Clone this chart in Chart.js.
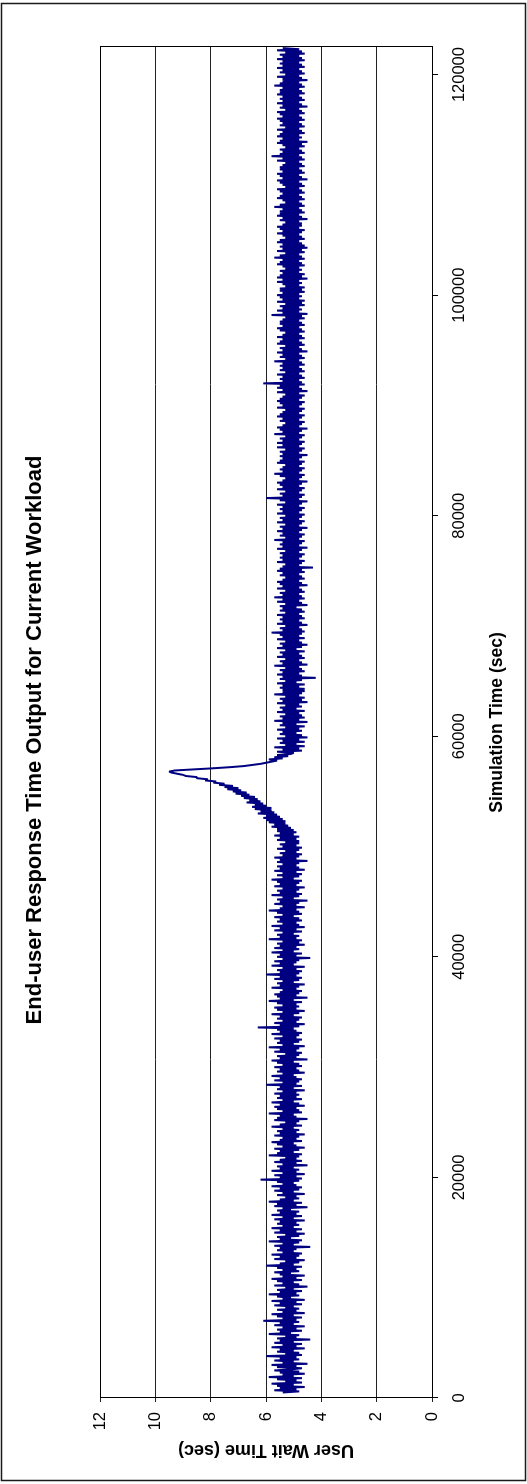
<!DOCTYPE html>
<html>
<head>
<meta charset="utf-8">
<title>End-user Response Time Output for Current Workload</title>
<script src="https://cdn.jsdelivr.net/npm/chart.js@4.4.1/dist/chart.umd.min.js"></script>
<style>
  html, body { margin: 0; padding: 0; background: #fff; }
  #wrap { position: relative; width: 527px; height: 1484px; overflow: hidden; }
  /* chart is drawn lying down, then turned a quarter turn counter-clockwise */
  #chart { position: absolute; left: 0; top: 0; transform-origin: 0 0; transform: translate(0, 1484px) rotate(-90deg); }
</style>
</head>
<body>
<div id="wrap"><canvas id="chart" width="1484" height="527"></canvas></div>
<script>
(function () {
    'use strict';

    // ─── Data ────────────────────────────────────────────────────────────────
    const sampleStart = 500;     // sec, first sample
    const sampleStep  = 100;     // sec between samples

    // steady state before the surge (t = 500 … 50400)
    const waitBefore = [
        5.4, 4.8, 5.7, 4.9, 5.5, 4.6, 5.6, 5.0, 5.8, 4.7,
        5.3, 4.9, 5.6, 4.7, 5.9, 5.0, 5.4, 4.6, 5.5, 4.8,
        5.7, 5.1, 4.7, 5.6, 4.9, 5.8, 4.5, 5.4, 5.0, 5.7,
        4.8, 5.5, 4.9, 6.0, 4.7, 5.3, 4.8, 5.6, 5.0, 5.5,
        4.6, 5.8, 4.9, 5.4, 4.7, 5.7, 5.0, 5.5, 4.4, 5.6,
        4.9, 5.3, 4.8, 5.9, 5.1, 5.5, 4.7, 5.6, 4.9, 5.4,
        4.6, 5.7, 5.0, 5.5, 4.8, 6.1, 4.9, 5.4, 4.7, 5.6,
        5.0, 5.8, 4.6, 5.4, 4.9, 5.6, 4.8, 5.3, 5.0, 5.7,
        4.7, 5.5, 4.9, 5.8, 4.6, 5.4, 5.1, 5.6, 4.8, 5.9,
        4.9, 5.5, 4.7, 5.6, 5.0, 5.3, 4.5, 5.7, 4.8, 5.4,
        5.0, 5.6, 4.7, 5.8, 4.9, 5.4, 4.6, 5.5, 5.1, 5.7,
        4.8, 5.4, 4.9, 5.6, 4.7, 6.0, 5.0, 5.5, 4.8, 5.3,
        4.6, 5.7, 4.9, 5.5, 4.8, 5.8, 4.7, 5.4, 5.0, 5.6,
        4.9, 5.5, 4.4, 5.7, 5.0, 5.4, 4.8, 5.9, 4.7, 5.5,
        5.1, 5.6, 4.8, 5.3, 4.6, 5.7, 4.9, 5.5, 4.7, 5.8,
        5.0, 5.4, 4.8, 5.6, 4.9, 5.5, 4.6, 5.7, 5.0, 5.4,
        4.7, 5.8, 4.9, 5.5, 4.8, 5.6, 5.1, 5.4, 4.5, 5.7,
        4.9, 5.6, 4.7, 5.9, 5.0, 5.5, 4.8, 5.3, 4.9, 5.6,
        4.6, 5.4, 5.0, 5.7, 4.8, 5.5, 4.7, 5.8, 4.9, 5.4,
        5.0, 5.6, 4.8, 6.2, 4.7, 5.5, 4.9, 5.7, 4.6, 5.4,
        4.9, 5.8, 4.8, 5.5, 5.0, 5.6, 4.5, 5.4, 4.9, 5.7,
        4.7, 5.5, 4.9, 5.3, 4.8, 5.9, 4.7, 5.6, 5.0, 5.5,
        4.8, 5.7, 4.6, 5.4, 4.9, 5.6, 5.0, 5.8, 4.7, 5.5,
        4.9, 5.4, 4.8, 5.7, 4.6, 5.5, 4.9, 5.6, 4.8, 5.4,
        5.0, 5.8, 4.7, 5.5, 4.9, 5.3, 4.8, 5.7, 4.5, 5.6,
        4.9, 5.5, 5.0, 5.9, 4.7, 5.4, 4.8, 5.6, 4.9, 5.7,
        4.6, 5.5, 4.8, 5.8, 5.0, 5.4, 4.7, 5.6, 4.9, 5.5,
        4.8, 5.7, 4.9, 5.4, 4.6, 5.6, 5.0, 5.5, 4.7, 6.0,
        4.9, 5.4, 4.8, 5.7, 4.7, 5.5, 4.9, 5.8, 5.0, 5.4,
        4.6, 5.6, 4.8, 5.5, 4.9, 5.7, 4.7, 5.4, 4.8, 5.6,
        5.0, 5.8, 4.5, 5.5, 4.9, 5.6, 4.8, 5.3, 4.7, 5.7,
        4.9, 5.5, 4.8, 5.9, 4.6, 5.4, 5.0, 5.6, 4.8, 5.5,
        4.7, 5.7, 4.9, 5.4, 4.8, 5.8, 4.7, 5.5, 4.9, 5.6,
        5.0, 6.3, 4.8, 5.5, 4.6, 5.7, 4.9, 5.4, 4.8, 5.6,
        4.7, 5.5, 5.0, 5.8, 4.8, 5.4, 4.6, 5.6, 4.9, 5.7,
        4.8, 5.4, 4.9, 5.6, 4.7, 5.9, 5.0, 5.5, 4.5, 5.6,
        4.9, 5.7, 4.8, 5.5, 4.7, 5.4, 4.9, 5.8, 4.8, 5.5,
        4.6, 5.6, 5.0, 5.4, 4.8, 5.7, 4.7, 5.5, 4.9, 6.0,
        4.8, 5.5, 4.7, 5.6, 4.9, 5.4, 4.6, 5.8, 5.0, 5.5,
        4.9, 5.7, 4.8, 5.4, 4.4, 5.6, 4.9, 5.5, 4.7, 5.8,
        5.0, 5.4, 4.8, 5.7, 4.9, 5.5, 4.6, 5.6, 4.8, 5.4,
        4.7, 5.9, 4.9, 5.5, 4.8, 5.6, 5.0, 5.4, 4.7, 5.7,
        4.9, 5.5, 4.6, 5.8, 4.8, 5.4, 4.9, 5.6, 4.7, 5.5,
        4.8, 5.7, 5.0, 5.4, 4.7, 5.6, 4.8, 5.9, 4.9, 5.5,
        4.6, 5.4, 4.9, 5.7, 4.8, 5.5, 4.5, 5.6, 5.0, 5.4,
        4.8, 5.8, 4.7, 5.5, 4.9, 5.6, 4.8, 5.4, 4.6, 5.7,
        4.9, 5.5, 4.8, 5.6, 4.7, 5.8, 5.0, 5.4, 4.8, 5.6,
        4.7, 5.4, 4.9, 5.7, 4.6, 5.5, 4.8, 5.6, 4.9, 5.4,
        4.8, 5.6, 4.5, 5.5, 4.9, 5.7, 4.8, 5.4, 4.7, 5.5,
        4.9, 5.3, 4.8, 5.6, 4.7, 5.4, 4.9, 5.5, 4.8, 5.3
    ];

    // build-up, peak and recovery (t = 50500 … 58400)
    const waitSurge = [
        4.8, 5.6, 4.9, 5.5, 4.8, 5.7, 5.0, 5.5, 4.9, 5.6,
        5.0, 5.6, 5.1, 5.8, 5.2, 5.7, 5.3, 5.9, 5.3, 6.0,
        5.4, 6.1, 5.5, 6.0, 5.6, 6.3, 5.7, 6.2, 5.8, 6.4,
        5.8, 6.5, 6.0, 6.4, 6.1, 6.7, 6.2, 6.6, 6.3, 6.8,
        6.4, 6.9, 6.6, 7.1, 6.7, 7.2, 6.9, 7.4, 7.0, 7.5,
        7.2, 7.7, 7.5, 7.9, 7.8, 8.2, 8.1, 8.5, 8.5, 8.9,
        9.0, 9.2, 9.4, 9.5, 9.3, 8.6, 7.9, 7.3, 6.8, 6.5,
        6.2, 6.0, 5.8, 5.6, 5.9, 5.4, 5.7, 5.2, 5.6, 5.1
    ];

    // steady state after the surge (t = 58500 … 122400)
    const waitAfter = [
        5.0, 5.6, 4.7, 5.4, 4.8, 5.7, 4.6, 5.3, 4.9, 5.5,
        4.6, 5.4, 4.8, 5.6, 4.5, 5.3, 4.7, 5.5, 4.9, 5.4,
        4.7, 5.6, 4.8, 5.3, 4.6, 5.5, 4.9, 5.4, 4.5, 5.7,
        4.8, 5.4, 4.6, 5.5, 4.7, 5.3, 4.8, 5.6, 4.6, 5.4,
        4.9, 5.5, 4.7, 5.3, 4.8, 5.6, 4.5, 5.4, 4.7, 5.5,
        4.6, 5.3, 4.8, 5.7, 4.7, 5.4, 4.6, 5.4, 4.6, 5.5,
        4.8, 5.4, 4.6, 5.6, 4.9, 5.3, 4.7, 5.5, 4.2, 5.4,
        4.7, 5.6, 4.8, 5.4, 4.6, 5.5, 4.7, 5.3, 4.8, 5.7,
        4.5, 5.4, 4.7, 5.5, 4.8, 5.3, 4.6, 5.6, 4.7, 5.4,
        4.8, 5.5, 4.6, 5.3, 4.9, 5.6, 4.7, 5.4, 4.5, 5.5,
        4.7, 5.3, 4.8, 5.6, 4.6, 5.4, 4.8, 5.5, 4.7, 5.8,
        4.6, 5.4, 4.7, 5.5, 4.8, 5.3, 4.5, 5.6, 4.7, 5.4,
        4.8, 5.5, 4.6, 5.4, 4.7, 5.6, 4.8, 5.3, 4.6, 5.5,
        4.7, 5.4, 4.9, 5.5, 4.5, 5.3, 4.7, 5.6, 4.8, 5.4,
        4.6, 5.7, 4.7, 5.4, 4.8, 5.5, 4.6, 5.3, 4.7, 5.6,
        4.8, 5.4, 4.5, 5.5, 4.7, 5.6, 4.8, 5.4, 4.6, 5.3,
        4.7, 5.5, 4.8, 5.4, 4.6, 5.6, 4.7, 5.5, 4.3, 5.4,
        4.8, 5.3, 4.7, 5.6, 4.6, 5.4, 4.8, 5.5, 4.7, 5.4,
        4.6, 5.5, 4.8, 5.3, 4.7, 5.6, 4.5, 5.4, 4.8, 5.5,
        4.7, 5.4, 4.6, 5.7, 4.8, 5.3, 4.7, 5.5, 4.6, 5.4,
        4.8, 5.6, 4.7, 5.4, 4.5, 5.5, 4.8, 5.3, 4.7, 5.6,
        4.6, 5.4, 4.8, 5.5, 4.7, 5.3, 4.6, 5.6, 4.8, 5.4,
        4.7, 5.5, 4.6, 5.4, 4.8, 5.6, 4.7, 5.3, 4.5, 5.5,
        4.8, 6.0, 4.7, 5.4, 4.6, 5.5, 4.8, 5.3, 4.7, 5.6,
        4.6, 5.4, 4.8, 5.5, 4.7, 5.6, 4.5, 5.4, 4.8, 5.3,
        4.7, 5.5, 4.6, 5.7, 4.8, 5.4, 4.7, 5.5, 4.6, 5.4,
        4.8, 5.3, 4.7, 5.6, 4.6, 5.5, 4.8, 5.4, 4.7, 5.5,
        4.5, 5.4, 4.8, 5.5, 4.7, 5.3, 4.6, 5.6, 4.8, 5.4,
        4.7, 5.6, 4.6, 5.4, 4.8, 5.5, 4.7, 5.3, 4.6, 5.7,
        4.8, 5.4, 4.7, 5.5, 4.5, 5.6, 4.8, 5.4, 4.7, 5.3,
        4.6, 5.5, 4.8, 5.4, 4.7, 5.6, 4.6, 5.5, 4.8, 5.4,
        4.7, 5.3, 4.6, 5.6, 4.8, 5.4, 4.7, 5.5, 4.6, 5.6,
        4.8, 5.5, 4.7, 5.4, 4.6, 5.3, 4.8, 5.6, 4.5, 5.4,
        4.7, 5.6, 4.8, 5.5, 4.6, 6.1, 4.7, 5.4, 4.8, 5.5,
        4.6, 5.4, 4.7, 5.6, 4.8, 5.3, 4.6, 5.5, 4.7, 5.4,
        4.8, 5.5, 4.6, 5.4, 4.7, 5.7, 4.8, 5.3, 4.6, 5.5,
        4.7, 5.4, 4.8, 5.6, 4.5, 5.4, 4.7, 5.5, 4.8, 5.3,
        4.6, 5.6, 4.7, 5.5, 4.8, 5.4, 4.6, 5.6, 4.7, 5.4,
        4.8, 5.3, 4.6, 5.5, 4.7, 5.6, 4.8, 5.4, 4.6, 5.5,
        4.7, 5.5, 4.8, 5.4, 4.6, 5.3, 4.7, 5.8, 4.5, 5.4,
        4.8, 5.6, 4.7, 5.4, 4.8, 5.5, 4.6, 5.3, 4.7, 5.6,
        4.6, 5.4, 4.8, 5.5, 4.7, 5.6, 4.8, 5.4, 4.6, 5.5,
        4.7, 5.5, 4.6, 5.3, 4.8, 5.4, 4.7, 5.6, 4.8, 5.4,
        4.5, 5.6, 4.7, 5.5, 4.6, 5.4, 4.8, 5.5, 4.7, 5.3,
        4.8, 5.4, 4.6, 5.6, 4.7, 5.5, 4.8, 5.4, 4.6, 5.7,
        4.7, 5.5, 4.8, 5.3, 4.6, 5.6, 4.7, 5.4, 4.5, 5.5,
        4.6, 5.4, 4.7, 5.6, 4.8, 5.5, 4.6, 5.3, 4.7, 5.4,
        4.8, 5.6, 4.7, 5.4, 4.6, 5.5, 4.8, 5.6, 4.7, 5.4,
        4.7, 5.3, 4.8, 5.5, 4.5, 5.4, 4.7, 5.6, 4.8, 5.5,
        4.6, 5.5, 4.7, 5.4, 4.8, 5.7, 4.6, 5.5, 4.7, 5.3,
        4.8, 5.4, 4.6, 5.6, 4.7, 5.5, 4.8, 5.4, 4.6, 5.5,
        4.7, 5.6, 4.8, 5.3, 4.6, 5.4, 4.7, 5.5, 4.8, 5.6,
        4.5, 5.4, 4.7, 5.5, 4.8, 5.6, 4.6, 5.4, 4.7, 5.5,
        4.8, 5.5, 4.6, 5.4, 4.7, 5.3, 4.8, 5.6, 4.6, 5.4,
        4.7, 5.8, 4.8, 5.5, 4.6, 5.4, 4.7, 5.5, 4.8, 5.3,
        4.6, 5.4, 4.7, 5.6, 4.5, 5.5, 4.8, 5.4, 4.7, 5.6,
        4.8, 5.5, 4.6, 5.4, 4.7, 5.6, 4.8, 5.3, 4.6, 5.5,
        4.7, 5.4, 4.8, 5.5, 4.6, 5.6, 4.7, 5.4, 4.8, 5.5,
        4.6, 5.6, 4.7, 5.3, 4.8, 5.5, 4.5, 5.4, 4.7, 5.6,
        4.8, 5.4, 4.6, 5.5, 4.7, 5.4, 4.8, 5.6, 4.6, 5.5,
        4.7, 5.5, 4.8, 5.4, 4.6, 5.7, 4.7, 5.5, 4.8, 5.4,
        4.5, 5.4, 4.7, 5.6, 4.8, 5.3, 4.6, 5.5, 4.7, 5.4,
        4.8, 5.6, 4.6, 5.4, 4.7, 5.5, 4.8, 5.4, 4.6, 5.6,
        4.7, 5.4, 4.8, 5.5, 4.6, 5.3, 4.7, 5.6, 4.8, 5.4
    ];

    const timeTicks = [0, 20000, 40000, 60000, 80000, 100000, 120000];
    const waitTicks = [0, 2, 4, 6, 8, 10, 12];

    const FONT = "Arial, 'Liberation Sans', sans-serif";
    const INK  = '#000000';
    const LINE = '#000080';

    const waitSeries = waitBefore.concat(waitSurge, waitAfter);
    const points = waitSeries.map((v, i) => ({ x: sampleStart + i * sampleStep, y: v }));

    // ─── Frame: white page, outer border, plot border ───────────────────────
    const framePlugin = {
        id: 'frame',
        beforeDraw(chart) {
            const c = chart.ctx;
            c.save();
            c.fillStyle = '#ffffff';
            c.fillRect(0, 0, chart.width, chart.height);
            c.strokeStyle = '#1a1a1a';
            c.lineWidth = 1.5;
            c.strokeRect(3.5, 1.5, 1477, 524);
            c.restore();
        },
        beforeDatasetsDraw(chart) {
            const a = chart.chartArea;
            const c = chart.ctx;
            c.save();
            c.strokeStyle = INK;
            c.lineWidth = 1;
            c.strokeRect(Math.round(a.left) + 0.5, Math.round(a.top) + 0.5,
                         Math.round(a.right - a.left), Math.round(a.bottom - a.top));
            c.restore();
        }
    };

    new Chart(document.getElementById('chart'), {
        type: 'line',
        data: {
            datasets: [{
                label: 'User Wait Time',
                data: points,
                borderColor: LINE,
                backgroundColor: LINE,
                borderWidth: 2,
                borderJoinStyle: 'bevel',
                pointRadius: 0,
                tension: 0,
                fill: false,
            }],
        },
        options: {
            responsive: false,
            animation: false,
            devicePixelRatio: 1,
            layout: { padding: { left: 51, right: 47, top: 0, bottom: 0 } },
            plugins: {
                legend: { display: false },
                tooltip: { enabled: false },
                title: {
                    display: true,
                    text: 'End-user Response Time Output for Current Workload',
                    color: INK,
                    font: { family: FONT, size: 22, weight: 'bold' },
                    padding: { top: 22.2, bottom: 51.4 },
                },
            },
            scales: {
                x: {
                    type: 'linear',
                    position: 'bottom',
                    min: 0,
                    max: 122500,
                    afterBuildTicks: s => { s.ticks = timeTicks.map(v => ({ value: v })); },
                    afterFit: s => { s.height = 95; },
                    ticks: {
                        color: INK,
                        font: { family: FONT, size: 16.5 },
                        padding: 12,
                        maxRotation: 0,
                        callback: v => String(v),
                    },
                    grid: { drawOnChartArea: false, drawTicks: true, tickLength: 6, color: INK },
                    border: { display: true, color: INK },
                    title: {
                        display: true,
                        text: 'Simulation Time (sec)',
                        color: INK,
                        font: { family: FONT, size: 17.5, weight: 'bold' },
                        padding: { top: 0, bottom: 19.5 },
                    },
                },
                y: {
                    type: 'linear',
                    min: 0,
                    max: 12,
                    afterBuildTicks: s => { s.ticks = waitTicks.map(v => ({ value: v })); },
                    afterFit: s => { s.width = 35; },
                    ticks: {
                        color: INK,
                        font: { family: FONT, size: 16.5 },
                        padding: 10,
                        callback: v => String(v),
                    },
                    grid: { color: '#222222', lineWidth: 1, tickLength: 4 },
                    border: { display: true, color: INK },
                    title: {
                        display: true,
                        text: 'User Wait Time (sec)',
                        color: INK,
                        font: { family: FONT, size: 18, weight: 'bold' },
                        padding: { top: -27.8, bottom: 0 },
                    },
                },
            },
        },
        plugins: [framePlugin],
    });
})();
</script>
</body>
</html>
